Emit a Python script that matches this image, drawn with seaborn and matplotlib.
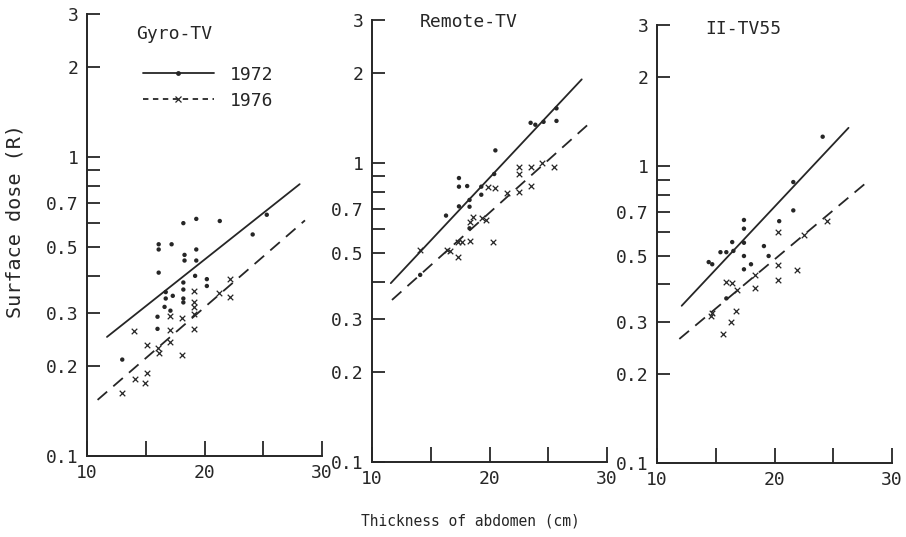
import numpy as np
import pandas as pd
import matplotlib
matplotlib.use("Agg")
import matplotlib.pyplot as plt
from matplotlib.lines import Line2D
import seaborn as sns

# ---- Gyro-TV ----
gyro_x72 = [13.0, 16.1, 16.1, 16.1, 17.2, 18.2, 19.3, 21.3, 25.3, 24.1, 18.3, 18.3, 19.3, 19.3,
            19.2, 20.2, 20.2, 18.2, 18.2, 18.2, 18.2, 16.7, 16.7, 16.6, 17.3, 17.1, 16.0, 16.0]
gyro_y72 = [0.21, 0.41, 0.51, 0.49, 0.51, 0.60, 0.62, 0.61, 0.64, 0.55, 0.47, 0.45, 0.49, 0.45,
            0.40, 0.39, 0.37, 0.38, 0.36, 0.336, 0.326, 0.353, 0.336, 0.315, 0.343, 0.306, 0.292, 0.266]
gyro_x76 = [14.0, 15.1, 16.0, 16.1, 14.1, 15.1, 14.9, 13.0, 17.1, 17.1, 17.1, 18.1, 18.1, 19.1,
            19.1, 19.1, 19.1, 19.1, 21.2, 22.2, 22.2]
gyro_y76 = [0.262, 0.235, 0.23, 0.221, 0.181, 0.189, 0.175, 0.162, 0.294, 0.264, 0.24, 0.29, 0.218,
            0.356, 0.326, 0.315, 0.298, 0.266, 0.351, 0.389, 0.34]
gyro_fit72_x = [11.7, 28.1]
gyro_fit72_y = [0.25, 0.81]
gyro_fit76_x = [10.9, 28.55]
gyro_fit76_y = [0.154, 0.613]

# ---- Remote-TV ----
remote_x72 = [14.1, 16.3, 17.4, 17.4, 18.1, 17.4, 18.3, 18.3, 18.3, 19.3, 19.3, 20.5, 20.4,
              23.5, 23.9, 24.6, 25.7, 25.7]
remote_y72 = [0.422, 0.666, 0.889, 0.832, 0.836, 0.715, 0.751, 0.713, 0.604, 0.832, 0.782, 1.10,
              0.917, 1.36, 1.34, 1.37, 1.52, 1.38]
remote_x76 = [14.1, 16.4, 16.6, 17.3, 17.3, 17.7, 18.3, 18.3, 18.6, 19.4, 19.7, 20.3, 19.9, 20.5,
              21.5, 22.5, 22.5, 22.5, 23.5, 23.5, 24.5, 25.5]
remote_y76 = [0.512, 0.512, 0.509, 0.486, 0.545, 0.545, 0.549, 0.636, 0.657, 0.654, 0.644, 0.545,
              0.827, 0.823, 0.79, 0.80, 0.965, 0.917, 0.97, 0.834, 0.995, 0.97]
remote_fit72_x = [11.6, 27.85]
remote_fit72_y = [0.396, 1.90]
remote_fit76_x = [11.7, 28.55]
remote_fit76_y = [0.348, 1.36]

# ---- II-TV55 ----
ii_x72 = [14.4, 14.7, 15.4, 15.9, 16.4, 16.5, 17.4, 17.4, 17.4, 17.4, 17.4, 18.0, 19.1, 19.5,
          20.4, 21.6, 21.6, 24.1, 15.9]
ii_y72 = [0.476, 0.468, 0.514, 0.514, 0.556, 0.519, 0.66, 0.617, 0.553, 0.499, 0.45, 0.468, 0.539,
          0.499, 0.654, 0.886, 0.711, 1.26, 0.359]
ii_x76 = [14.7, 14.6, 15.6, 16.3, 16.7, 15.9, 16.4, 16.8, 18.3, 18.3, 20.3, 20.3, 20.3, 21.9,
          22.5, 24.5]
ii_y76 = [0.32, 0.314, 0.272, 0.298, 0.326, 0.408, 0.404, 0.383, 0.43, 0.388, 0.601, 0.465, 0.414,
          0.448, 0.586, 0.654]
ii_fit72_x = [12.1, 26.3]
ii_fit72_y = [0.339, 1.35]
ii_fit76_x = [11.9, 27.8]
ii_fit76_y = [0.262, 0.881]

titles = ["Gyro-TV", "Remote-TV", "II-TV55"]
years = ["1972", "1976"]
y_ticks = [0.1, 0.2, 0.3, 0.4, 0.5, 0.6, 0.7, 0.8, 0.9, 1, 2, 3]
y_tick_labels = ["0.1", "0.2", "0.3", "", "0.5", "", "0.7", "", "", "1", "2", "3"]
x_ticks = [10, 15, 20, 25, 30]
x_tick_labels = ["10", "", "20", "", "30"]

panels = [
    (gyro_x72, gyro_y72, gyro_x76, gyro_y76, gyro_fit72_x, gyro_fit72_y, gyro_fit76_x, gyro_fit76_y),
    (remote_x72, remote_y72, remote_x76, remote_y76, remote_fit72_x, remote_fit72_y,
     remote_fit76_x, remote_fit76_y),
    (ii_x72, ii_y72, ii_x76, ii_y76, ii_fit72_x, ii_fit72_y, ii_fit76_x, ii_fit76_y),
]

sns.set_theme(style="white")
plt.rcParams["font.family"] = ["DejaVu Sans Mono", "DejaVu Sans"]
INK = "#262626"
DASH = (0, (7, 4.5))

fig = plt.figure(figsize=(9.06, 5.37), dpi=100)
W, H = 906.0, 537.0
# pixel boxes: left, right, bottom(y), top(y)
boxes = [(87, 322, 456, 14), (372, 607, 462, 20), (657, 892, 463, 25)]
title_pos = [(0.21, 0.955), (0.205, 0.995), (0.205, 0.99)]

for i, (box, data) in enumerate(zip(boxes, panels)):
    l, r, b, t = box
    ax = fig.add_axes([l / W, 1 - b / H, (r - l) / W, (b - t) / H])
    x72, y72, x76, y76, fx72, fy72, fx76, fy76 = data
    d72 = pd.DataFrame({"thickness": x72, "dose": y72})
    d76 = pd.DataFrame({"thickness": x76, "dose": y76})
    f72 = pd.DataFrame({"thickness": fx72, "dose": fy72})
    f76 = pd.DataFrame({"thickness": fx76, "dose": fy76})

    sns.lineplot(data=f72, x="thickness", y="dose", ax=ax, color=INK, lw=1.3)
    sns.lineplot(data=f76, x="thickness", y="dose", ax=ax, color=INK, lw=1.3, linestyle=DASH)
    sns.scatterplot(data=d72, x="thickness", y="dose", ax=ax, color=INK, marker="o",
                    s=10, edgecolor="none")
    sns.scatterplot(data=d76, x="thickness", y="dose", ax=ax, color=INK, marker="x",
                    s=16, linewidth=0.9)

    ax.set_yscale("log")
    ax.set_ylim(0.1, 3)
    ax.set_xlim(10, 30)
    ax.set_yticks(y_ticks)
    ax.set_yticklabels(y_tick_labels)
    ax.yaxis.set_minor_locator(matplotlib.ticker.NullLocator())
    ax.set_xticks(x_ticks)
    ax.set_xticklabels(x_tick_labels)
    ax.tick_params(axis="y", left=True, direction="in", length=9, width=1.3, colors=INK,
                   labelsize=13, pad=6)
    ax.tick_params(axis="x", bottom=True, direction="in", length=11, width=1.3, colors=INK,
                   labelsize=13, pad=6)
    for side in ("top", "right"):
        ax.spines[side].set_visible(False)
    for side in ("left", "bottom"):
        ax.spines[side].set_color(INK)
        ax.spines[side].set_linewidth(1.4)
    ax.set_xlabel("")
    ax.set_ylabel("")
    ax.patch.set_alpha(0)

    ax.text(title_pos[i][0], title_pos[i][1], titles[i], transform=ax.transAxes,
            fontsize=13, color=INK, ha="left", va="center")

    if i == 0:
        handles = [
            Line2D([], [], color=INK, lw=1.3, marker="o", markersize=3.5, markeredgewidth=0),
            Line2D([], [], color=INK, lw=1.3, linestyle=(0, (3, 2.5)), marker="x",
                   markersize=4.5, markeredgewidth=0.9),
        ]
        ax.legend(handles, years, loc="upper left", bbox_to_anchor=(0.17, 0.92),
                  frameon=False, handlelength=3.9, handletextpad=0.9, labelspacing=0.45,
                  fontsize=13, labelcolor=INK)

fig.text(470 / W, 1 - 521 / H, "Thickness of abdomen (cm)", ha="center", va="center",
         fontsize=10.5, color=INK)
fig.text(15 / W, 1 - 221 / H, "Surface dose (R)", ha="center", va="center",
         rotation=90, fontsize=14.5, color=INK)

fig.savefig("out.png", dpi=100, facecolor="white")
